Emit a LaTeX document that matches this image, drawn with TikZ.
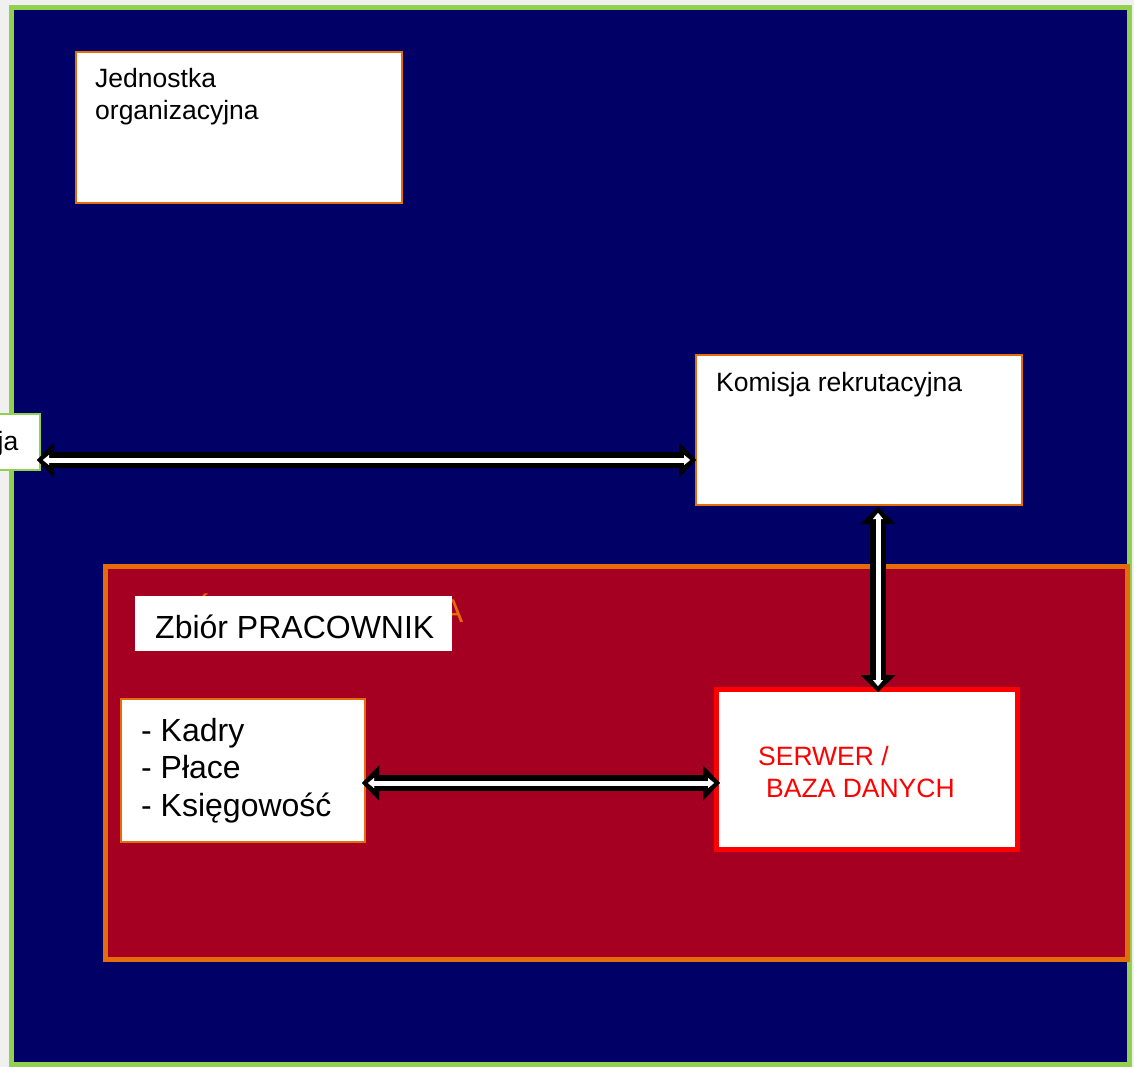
\documentclass[tikz,border=0pt]{standalone}
\usepackage{fontspec}
\setmainfont{Liberation Sans}
\usetikzlibrary{arrows.meta,calc}
\definecolor{pagegray}{HTML}{F0F0F0}
\definecolor{framegreen}{HTML}{92D050}
\definecolor{navyblue}{HTML}{000066}
\definecolor{darkred}{HTML}{A50021}
\definecolor{boxorange}{HTML}{E46C0A}
\definecolor{serverred}{HTML}{FF0000}
\begin{document}
\begin{tikzpicture}[x=1pt,y=-1pt,
  box/.style={draw=boxorange, line width=1.5pt, fill=white, inner sep=0pt, outer sep=0pt, anchor=north west},
  lbl/.style={anchor=base west, inner sep=0pt, font=\fontsize{26.5}{32}\selectfont},
  biglbl/.style={anchor=base west, inner sep=0pt, font=\fontsize{32}{38}\selectfont},
  arrowout/.style={line width=16pt, draw=black,
    {Triangle[width=35pt,length=17pt,line width=0.01pt]}-{Triangle[width=35pt,length=17pt,line width=0.01pt]}},
  arrowin/.style={line width=5pt, draw=white, shorten <=6pt, shorten >=6pt,
    {Triangle[width=10pt,length=6pt,line width=0.01pt]}-{Triangle[width=10pt,length=6pt,line width=0.01pt]}}
]
\useasboundingbox (0,0) rectangle (1134,1067);
\fill[pagegray] (0,0) rectangle (1134,1067);
% outer frame
\draw[draw=framegreen, fill=navyblue, line width=5pt] (11.5,7.5) rectangle (1129.5,1064.5);
% network area
\draw[draw=boxorange, fill=darkred, line width=5pt] (105.5,566.5) rectangle (1127,959.5);

% Jednostka organizacyjna
\node[box, minimum width=326pt, minimum height=151pt] (jed) at (76,52) {};
\node[lbl] (jedt1) at (95,88) {Jednostka};
\node[lbl] (jedt2) at (95,120) {organizacyjna};

% Komisja rekrutacyjna
\node[box, minimum width=326pt, minimum height=150pt] (kom) at (696,355) {};
\node[lbl] (komt) at (716,391) {Komisja rekrutacyjna};

% left cut box
\node[box, draw=framegreen, minimum width=100pt, minimum height=56pt] (rek) at (-60,414) {};
\node[lbl, anchor=base east] (rekt) at (18.5,450) {ja};

% hidden orange caption and Zbior box
\node[anchor=base west, inner sep=0pt, font=\fontsize{33}{38}\selectfont, text=boxorange] (net) at (137,622) {SIEĆ WEWNĘTRZNA};
\node[fill=white, inner sep=0pt, outer sep=0pt, anchor=north west, minimum width=317pt, minimum height=55pt] (zb) at (135,596) {};
\node[biglbl] (zbt) at (155,638) {Zbiór PRACOWNIK};

% Kadry box
\node[box, minimum width=244pt, minimum height=143pt] (kad) at (121,699) {};
\node[biglbl] (kad1) at (141,741) {- Kadry};
\node[biglbl] (kad2) at (141,778) {- Płace};
\node[biglbl] (kad3) at (141,816) {- Księgowość};

% Serwer box
\node[draw=serverred, fill=white, line width=5pt, inner sep=0pt, outer sep=0pt, anchor=north west,
  minimum width=301pt, minimum height=160pt] (srv) at (716.5,689.5) {};
\node[lbl, text=serverred] (srv1) at (758,765) {SERWER /};
\node[lbl, text=serverred] (srv2) at (766,797) {BAZA DANYCH};

% arrows
\draw[arrowout] ($(rek.east)+(-3,18)$) -- ($(kom.west |- rek.east)+(0,18)$);
\draw[arrowin]  ($(rek.east)+(-3,18)$) -- ($(kom.west |- rek.east)+(0,18)$);

\draw[arrowout] ($(kom.south)+(19,2)$) -- ($(srv.north)+(11,2.5)$);
\draw[arrowin]  ($(kom.south)+(19,2)$) -- ($(srv.north)+(11,2.5)$);

\draw[arrowout] ($(kad.east)+(-3,12.5)$) -- ($(srv.west |- kad.east)+(3.5,12.5)$);
\draw[arrowin]  ($(kad.east)+(-3,12.5)$) -- ($(srv.west |- kad.east)+(3.5,12.5)$);
\end{tikzpicture}
\end{document}
